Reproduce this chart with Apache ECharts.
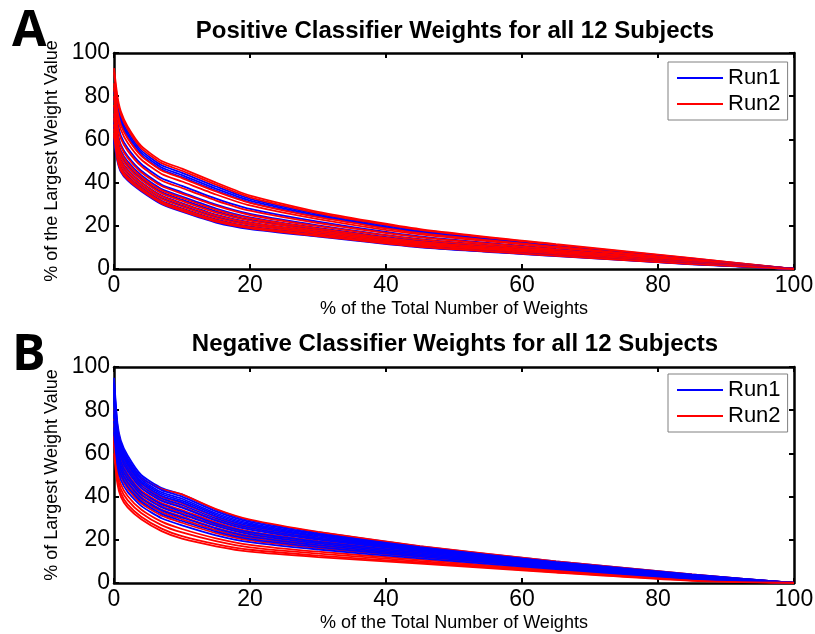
<!DOCTYPE html>
<html>
<head>
<meta charset="utf-8" />
<script src="https://cdn.jsdelivr.net/npm/echarts@6/dist/echarts.min.js"></script>
</head>
<body style="margin:0;background:#fff">
<div id="main" style="width:815px;height:634px"></div>
<script>
// % of total number of weights (sorted), shared x positions for every curve
var xPts = [0, 0.5, 1, 2, 4, 7, 10, 15, 20, 30, 45, 65, 85, 100];

// Panel A - positive weights, one row per subject
var posRun1 = [
  [82, 77, 70.2, 63.5, 54.9, 48, 44.5, 38.2, 32.5, 25.4, 17.7, 11, 4.7, 0],
  [80, 75.5, 68.8, 62.3, 53.9, 47, 43.5, 37.2, 31.7, 24.8, 17.2, 10.7, 4.6, 0],
  [78, 74, 67.4, 61, 52.8, 46, 42.5, 36.3, 30.9, 24.2, 16.8, 10.4, 4.4, 0],
  [75, 68, 61.8, 56, 48.6, 42, 38.5, 32.6, 27.8, 21.9, 15.1, 9.3, 3.9, 0],
  [72, 63.5, 57.6, 52.3, 45.5, 39, 35.5, 29.8, 25.5, 20.2, 13.8, 8.5, 3.5, 0],
  [70, 60.5, 54.8, 49.8, 43.4, 37, 33.5, 28, 23.9, 19, 13, 7.9, 3.2, 0],
  [68, 58.4, 52.8, 48, 41.9, 35.6, 32.1, 26.7, 22.8, 18.2, 12.4, 7.5, 3, 0],
  [66, 56, 50.6, 46, 40.2, 34, 30.5, 25.2, 21.6, 17.3, 11.7, 7.1, 2.8, 0],
  [63, 54.2, 48.9, 44.5, 38.9, 32.8, 29.3, 24.1, 20.7, 16.6, 11.2, 6.8, 2.6, 0],
  [62, 52.4, 47.2, 43, 37.7, 31.6, 28.1, 23, 19.7, 15.9, 10.7, 6.4, 2.4, 0],
  [60, 51.2, 46.1, 42, 36.8, 30.8, 27.3, 22.2, 19.1, 15.5, 10.3, 6.2, 2.3, 0],
  [59, 50, 45, 41, 36, 30, 26.5, 21.5, 18.5, 15, 10, 6, 2.2, 0]
];
var posRun2 = [
  [93, 80, 73, 66, 57, 50, 46.5, 40, 34, 26.5, 18.5, 11.5, 5, 0],
  [91, 78.5, 71.6, 64.8, 56, 49, 45.5, 39.1, 33.2, 25.9, 18.1, 11.2, 4.9, 0],
  [86, 73.4, 66.8, 60.5, 52.4, 45.6, 42.1, 35.9, 30.6, 24, 16.6, 10.3, 4.4, 0],
  [84, 71, 64.6, 58.5, 50.7, 44, 40.5, 34.5, 29.4, 23.1, 16, 9.9, 4.2, 0],
  [80, 66.5, 60.4, 54.8, 47.6, 41, 37.5, 31.7, 27, 21.3, 14.7, 9, 3.7, 0],
  [76, 62.6, 56.8, 51.5, 44.8, 38.4, 34.9, 29.3, 25, 19.8, 13.6, 8.3, 3.4, 0],
  [72, 59.6, 54, 49, 42.7, 36.4, 32.9, 27.4, 23.5, 18.7, 12.7, 7.8, 3.1, 0],
  [70, 57.5, 52, 47.3, 41.3, 35, 31.5, 26.1, 22.4, 17.9, 12.1, 7.4, 2.9, 0],
  [67, 55.4, 50, 45.5, 39.8, 33.6, 30.1, 24.8, 21.3, 17.1, 11.5, 7, 2.7, 0],
  [65, 53.6, 48.4, 44, 38.5, 32.4, 28.9, 23.7, 20.4, 16.4, 11, 6.7, 2.5, 0],
  [63, 51.8, 46.7, 42.5, 37.3, 31.2, 27.7, 22.6, 19.4, 15.7, 10.5, 6.3, 2.4, 0],
  [62, 50.6, 45.6, 41.5, 36.4, 30.4, 26.9, 21.9, 18.8, 15.2, 10.2, 6.1, 2.3, 0]
];

// Panel B - negative weights
var negRun1 = [
  [95, 74, 66, 59, 50, 44, 41, 34, 29, 23.5, 17, 10, 4, 0],
  [93, 72.6, 64.7, 57.8, 49, 43, 40, 33.2, 28.3, 22.9, 16.6, 9.7, 3.9, 0],
  [92, 71.2, 63.4, 56.6, 48, 42, 39, 32.3, 27.6, 22.4, 16.2, 9.5, 3.7, 0],
  [90, 70.1, 62.4, 55.6, 47.1, 41.2, 38.1, 31.6, 27, 21.9, 15.9, 9.3, 3.6, 0],
  [88, 69, 61.3, 54.7, 46.3, 40.4, 37.3, 30.9, 26.4, 21.4, 15.6, 9.1, 3.5, 0],
  [86, 67.3, 59.8, 53.2, 45.1, 39.2, 36.1, 29.9, 25.5, 20.7, 15.1, 8.8, 3.3, 0],
  [84, 65.6, 58.2, 51.8, 43.9, 38, 34.9, 28.9, 24.7, 20.1, 14.6, 8.4, 3.1, 0],
  [80, 63.4, 56.1, 49.9, 42.2, 36.4, 33.2, 27.5, 23.5, 19.1, 14, 8, 2.9, 0],
  [78, 61.4, 54.3, 48.2, 40.8, 35, 31.8, 26.4, 22.5, 18.3, 13.4, 7.7, 2.7, 0],
  [75, 59.4, 52.5, 46.5, 39.3, 33.6, 30.3, 25.2, 21.5, 17.5, 12.8, 7.3, 2.4, 0],
  [72, 57.2, 50.4, 44.6, 37.7, 32, 28.7, 23.8, 20.3, 16.6, 12.2, 6.9, 2.2, 0],
  [70, 54.4, 47.8, 42.2, 35.7, 30, 26.7, 22.1, 18.9, 15.5, 11.4, 6.4, 1.9, 0]
];
var negRun2 = [
  [80, 71.8, 63.9, 57.1, 48.6, 43.5, 41, 34.2, 29.3, 23.7, 17.1, 10, 4, 0],
  [76, 68.4, 60.8, 54.2, 45.9, 40, 36.9, 30.6, 26.1, 21.2, 15.4, 9, 3.4, 0],
  [74, 66.2, 58.7, 52.3, 44.3, 38.4, 35.3, 29.2, 24.9, 20.3, 14.8, 8.5, 3.2, 0],
  [72, 64.2, 56.9, 50.6, 42.8, 37, 33.8, 28.1, 23.9, 19.5, 14.2, 8.2, 3, 0],
  [70, 62.2, 55.1, 48.9, 41.4, 35.6, 32.4, 26.9, 22.9, 18.7, 13.6, 7.8, 2.7, 0],
  [68, 60, 53, 47, 39.8, 34, 30.8, 25.5, 21.8, 17.8, 13, 7.4, 2.5, 0],
  [66, 58.3, 51.4, 45.6, 38.5, 32.8, 29.5, 24.5, 20.9, 17.1, 12.5, 7.1, 2.3, 0],
  [64, 56.1, 49.4, 43.6, 36.9, 31.2, 27.9, 23.1, 19.7, 16.1, 11.9, 6.7, 2.1, 0],
  [70, 52.2, 45.7, 40.3, 34, 28.4, 25, 20.7, 17.7, 14.5, 10.8, 5.9, 1.7, 0],
  [68, 49.9, 43.6, 38.4, 32.4, 26.8, 23.4, 19.4, 16.5, 13.6, 10.1, 5.5, 1.4, 0],
  [65, 47.7, 41.6, 36.4, 30.7, 25.2, 21.7, 18, 15.4, 12.7, 9.5, 5.1, 1.2, 0],
  [60, 46, 40, 35, 29.5, 24, 20.5, 17, 14.5, 12, 9, 4.8, 1, 0]
];

var BLUE = '#0000ff', RED = '#ff0000';
var font = 'Liberation Sans, Arial, sans-serif';

var chart = echarts.init(document.getElementById('main'));

function curve(name, color, row, ax) {
  return {
    type: 'line', name: name, color: color,
    xAxisIndex: ax, yAxisIndex: ax,
    data: xPts.map(function (x, i) { return [x, row[i]]; }),
    showSymbol: false, smooth: 0.2,
    lineStyle: { width: 1.8, color: color },
    silent: true, animation: false
  };
}

var series = [];
for (var i = 0; i < 12; i++) {
  series.push(curve('Run1', BLUE, posRun1[i], 0));
  series.push(curve('Run2', RED, posRun2[i], 0));
}
for (var i = 0; i < 12; i++) {
  series.push(curve('Run1', BLUE, negRun1[i], 2));
  series.push(curve('Run2', RED, negRun2[i], 2));
}

function xAx(grid, top, name) {
  return {
    type: 'value', gridIndex: grid, position: top ? 'top' : 'bottom',
    min: 0, max: 100, interval: 20,
    axisLine: { onZero: false, lineStyle: { color: '#000', width: 2.5 } },
    axisTick: { inside: true, length: 5, lineStyle: { color: '#000', width: 2 } },
    axisLabel: { show: !top, color: '#000', fontSize: 23, fontFamily: font, margin: 5 },
    splitLine: { show: false },
    name: top ? '' : name, nameLocation: 'middle', nameGap: 31,
    nameTextStyle: { color: '#000', fontSize: 18, fontFamily: font }
  };
}
function yAx(grid, right, name) {
  return {
    type: 'value', gridIndex: grid, position: right ? 'right' : 'left',
    min: 0, max: 100, interval: 20,
    axisLine: { show: true, onZero: false, lineStyle: { color: '#000', width: 2.5 } },
    axisTick: { show: true, inside: true, length: 5, lineStyle: { color: '#000', width: 2 } },
    axisLabel: { show: !right, color: '#000', fontSize: 23, fontFamily: font, margin: 4 },
    splitLine: { show: false },
    name: right ? '' : name, nameLocation: 'middle', nameGap: 46,
    nameTextStyle: { color: '#000', fontSize: 18, fontFamily: font }
  };
}

function legendAt(top) {
  return {
    data: ['Run1', 'Run2'], orient: 'vertical', left: 668, top: top,
    backgroundColor: '#fff', borderColor: '#808080', borderWidth: 1,
    padding: [5, 7, 5, 9], itemGap: 4, itemWidth: 46, itemHeight: 2,
    icon: 'rect', selectedMode: false,
    textStyle: { color: '#000', fontSize: 22, fontFamily: font, lineHeight: 22 }
  };
}

var option = {
  backgroundColor: '#fff',
  animation: false,
  title: [
    { text: 'A', left: 7, top: 2, textStyle: { fontSize: 50, fontWeight: 'bold', fontFamily: 'Open Sans, DejaVu Sans, sans-serif', color: '#000' } },
    { text: 'B', left: 7, top: 326, textStyle: { fontSize: 50, fontWeight: 'bold', fontFamily: 'Open Sans, DejaVu Sans, sans-serif', color: '#000' } },
    { text: 'Positive Classifier Weights for all 12 Subjects', left: 450, top: 14, textAlign: 'center',
      textStyle: { fontSize: 24, fontWeight: 'bold', fontFamily: font, color: '#000' } },
    { text: 'Negative Classifier Weights for all 12 Subjects', left: 450, top: 327, textAlign: 'center',
      textStyle: { fontSize: 24, fontWeight: 'bold', fontFamily: font, color: '#000' } }
  ],
  legend: [legendAt(62), legendAt(374)],
  grid: [
    { left: 114, top: 53, width: 680, height: 216, outerBoundsMode: 'none' },
    { left: 114, top: 367, width: 680, height: 216, outerBoundsMode: 'none' }
  ],
  xAxis: [
    xAx(0, false, '% of the Total Number of Weights'), xAx(0, true),
    xAx(1, false, '% of the Total Number of Weights'), xAx(1, true)
  ],
  yAxis: [
    yAx(0, false, '% of the Largest Weight Value'), yAx(0, true),
    yAx(1, false, '% of Largest Weight Value'), yAx(1, true)
  ],
  series: series
};
chart.setOption(option);
</script>
</body>
</html>
